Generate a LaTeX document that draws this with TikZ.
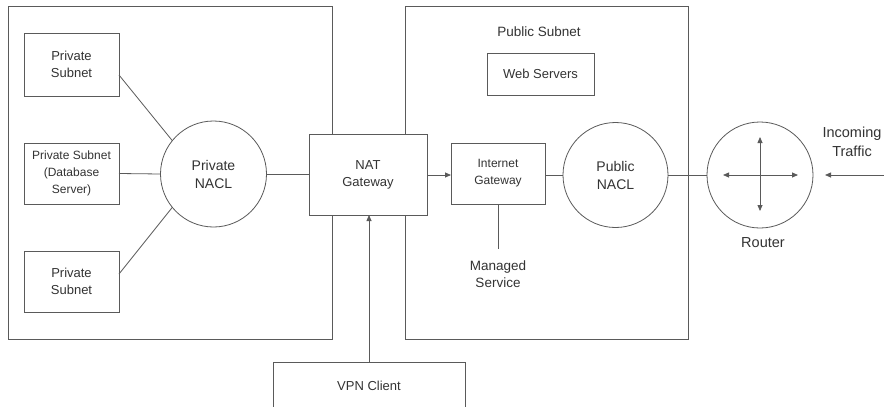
\documentclass[tikz,border=0pt]{standalone}
\usepackage{fontspec}
\setmainfont{Liberation Sans}
\usetikzlibrary{arrows.meta,calc}
\definecolor{linec}{HTML}{5A5A5A}
\definecolor{textc}{HTML}{333333}
\tikzset{
  boxn/.style={draw=linec, line width=0.8pt, fill=white, inner sep=0pt, outer sep=0pt, align=center,
    text=textc, font=\fontsize{13}{17}\selectfont},
  circn/.style={draw=linec, line width=0.8pt, fill=white, circle, inner sep=0pt, outer sep=0pt,
    align=center, text=textc, font=\fontsize{14}{18}\selectfont},
  lbl/.style={align=center, text=textc, inner sep=0pt, font=\fontsize{13.5}{17}\selectfont},
  conn/.style={draw=linec, line width=0.8pt},
  arr/.style={conn, -{Triangle[length=6pt,width=5pt]}},
  darr/.style={conn, {Triangle[length=6pt,width=5pt]}-{Triangle[length=6pt,width=5pt]}},
}
\begin{document}
\begin{tikzpicture}[x=1pt,y=-1pt]
\useasboundingbox (0,0) rectangle (884,407);
\fill[white] (0,0) rectangle (884,407);
\clip (0,0) rectangle (884,407);
% containers
\node[boxn, minimum width=324pt, minimum height=333pt] (leftbox) at (170,172.5) {};
\node[boxn, minimum width=283pt, minimum height=333pt] (pubbox) at (546.5,172.5) {};
% private subnets
\node[boxn, minimum width=95pt, minimum height=63pt] (ps1) at (71.5,64.5) {Private\\Subnet};
\node[boxn, minimum width=95pt, minimum height=61pt, font=\fontsize{12}{17}\selectfont] (ps2) at (71.5,173.5) {Private Subnet\\(Database\\Server)};
\node[boxn, minimum width=95pt, minimum height=61pt] (ps3) at (71.5,281.5) {Private\\Subnet};
\node[circn, minimum size=106pt] (pnacl) at (213.5,174) {Private\\NACL};
% NAT
\node[boxn, minimum width=118pt, minimum height=81pt] (nat) at (368,174.5) {NAT\\Gateway};
% public subnet
\node[lbl] (publabel) at (539,32) {Public Subnet};
\node[boxn, minimum width=107pt, minimum height=42pt] (web) at (540.5,74) {Web Servers};
\node[boxn, minimum width=94pt, minimum height=61pt, font=\fontsize{12}{17}\selectfont] (igw) at (498,173.5) {Internet\\Gateway};
\node[lbl] (managed) at (498,274) {Managed\\Service};
\coordinate (mtop) at (498,249);
\node[circn, minimum size=105pt] (pubnacl) at (615.5,175) {Public\\NACL};
% router
\node[circn, minimum size=106pt] (router) at (760,175) {};
\node[lbl, font=\fontsize{14.5}{18}\selectfont] (routerlabel) at (763,243) {Router};
\node[lbl, font=\fontsize{14.5}{19}\selectfont] (incoming) at (852,142) {Incoming\\Traffic};
\coordinate (inend) at (884,175);
% VPN
\node[boxn, minimum width=192pt, minimum height=48pt] (vpn) at (369,386) {VPN Client};
% connectors
\draw[conn] (ps1.east |- 0,75) -- (pnacl.141);
\draw[conn] (ps2.east) -- (pnacl.west);
\draw[conn] (ps3.east |- 0,274) -- (pnacl.219);
\draw[conn] (pnacl.east) -- (nat.west |- pnacl.east);
\draw[arr] (nat.east |- 0,175) -- (igw.west |- 0,175);
\draw[conn] (igw.east |- 0,175) -- (pubnacl.west);
\draw[conn] (pubnacl.east) -- (router.west);
\draw[conn] (igw.south) -- (mtop);
\draw[arr] (vpn.north) -- (vpn.north |- nat.south);
\draw[arr] (inend) -- ($(router.east)+(12,0)$);
\draw[darr] ($(router.center)+(-37,0)$) -- ($(router.center)+(38,0)$);
\draw[darr] ($(router.center)+(0,-38)$) -- ($(router.center)+(0,36)$);
\end{tikzpicture}
\end{document}
